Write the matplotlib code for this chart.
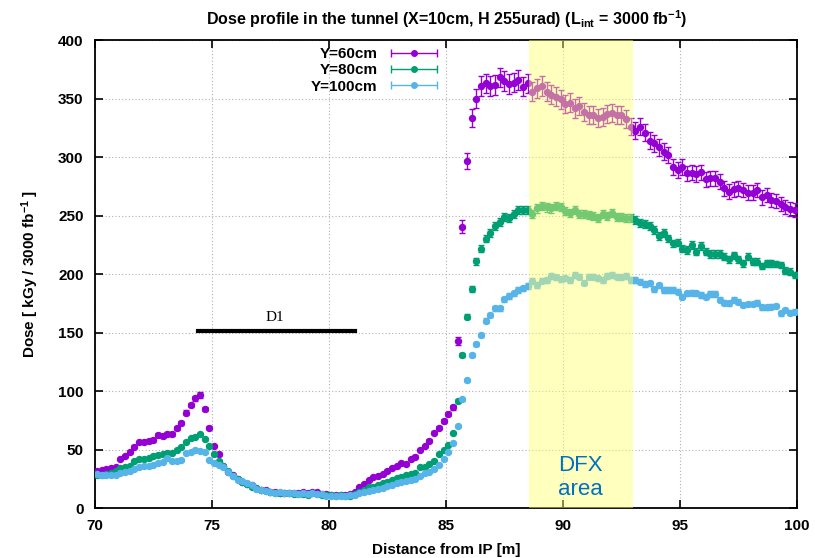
import numpy as np
import matplotlib.pyplot as plt
from matplotlib.container import ErrorbarContainer
from matplotlib.legend_handler import HandlerErrorbar

# Dose values, one bin every 0.2 m starting at 70.1 m
dose_60 = [31.9, 32.5, 33, 33.9, 35.3, 41.9, 44.4, 48.2, 52.4, 56.1,
           56.7, 57.5, 58.1, 62.4, 61.5, 63.2, 63.2, 68.1, 72.9, 81.5,
           88, 93.7, 96.6, 84.6, 68.7, 53, 45.9, 35.9, 31, 28,
           25, 22.5, 20.5, 19.5, 17, 15.5, 15, 14, 13.5, 13,
           12.5, 13, 12.5, 13, 13.5, 13, 14, 13.5, 12, 12,
           11.5, 11, 11, 11.5, 12, 14, 17.7, 20.5, 23.9, 26.2,
           27.4, 28.8, 31.9, 34.5, 35.9, 38.2, 37.3, 41.6, 43.9, 49.6,
           53, 57.5, 64.4, 68.7, 74.6, 80.3, 86, 142.7, 240.5, 296.6,
           333, 350, 360.7, 363, 360.7, 361.5, 368, 365.2, 362.4, 363.5,
           365.8, 360.1, 363, 355.8, 358.7, 360.7, 355.8, 353, 351.5, 349.3,
           345.3, 346.4, 341.6, 343.6, 338.7, 335.9, 335.9, 333, 334.5, 336.8,
           337.3, 335.9, 335.9, 332.2, 325.9, 322.5, 325.9, 320.8, 313.9, 311.7,
           308.3, 304.6, 301.7, 291.5, 289, 291.2, 286, 286.6, 285.5, 286.9,
           280.9, 281.8, 281.8, 278.9, 273.2, 270.4, 272.4, 273.2, 271.8, 269.5,
           269.5, 271.8, 265.5, 267.5, 263.2, 262.7, 259.8, 257, 255.3, 254.7]

dose_80 = [28.5, 28.5, 28.8, 29.6, 31.9, 33.9, 34.8, 35.9, 40.5, 41.9,
           41.9, 42.5, 44.4, 45.3, 46.2, 47.3, 46.7, 49.6, 52.4, 56.7,
           59.5, 60.9, 63.2, 58.7, 53, 46.2, 40, 36, 31.5, 27.4,
           24.5, 22.5, 20.5, 18.2, 16.8, 15.4, 14.8, 14, 13.1, 13.1,
           12.5, 12.5, 12, 12, 12, 11.5, 12.5, 12, 11.5, 11.1,
           10.8, 10.3, 11.1, 10.3, 10.3, 12, 14, 15.4, 17.7, 18.2,
           19.7, 21.1, 22.5, 23.9, 25.4, 26.2, 28.2, 29.1, 29.6, 34.8,
           35.3, 37.3, 40.5, 46, 49.6, 54, 64.4, 91.7, 130.8, 163.5,
           187.5, 210.8, 221.6, 230.2, 234.8, 241, 244.7, 249, 247.9, 251.3,
           254.7, 254.7, 254.7, 251.3, 256.1, 258.1, 257, 256.1, 258.1, 257.5,
           254.1, 251.9, 254.7, 251.3, 251.3, 250.4, 249.6, 247.6, 251.3, 249.9,
           251.9, 249, 248.4, 247.6, 247.6, 246.2, 243.3, 242.7, 241, 237.6,
           232.5, 235.3, 230.5, 226.2, 226.8, 221.5, 220.5, 224.8, 219.1, 223.9,
           219.1, 217.1, 217.1, 217.1, 214.8, 212.5, 216.2, 212.5, 209.1, 214.8,
           210.5, 210.5, 206.8, 209.1, 209.1, 208.5, 207.7, 202.8, 202, 199.1]

dose_100 = [29, 28.5, 28, 28, 28.5, 30, 31, 32, 33.5, 35,
            35.5, 36, 37, 38.5, 39, 42.5, 40, 40, 41, 47,
            47.5, 50, 49, 47.5, 41, 38.7, 36.8, 35, 30.5, 27,
            24, 23, 21, 20, 16.5, 15.5, 14.5, 14, 13, 13.5,
            12.5, 12.5, 12.5, 12, 12.5, 12, 13, 12, 12, 10.5,
            10, 10, 10, 10.5, 11, 11.5, 12.5, 13.5, 14.5, 15.5,
            16.5, 17.5, 18.5, 19.5, 21, 22, 23, 24, 25, 27,
            29.6, 31.1, 33, 37, 42, 48, 55.5, 70, 92.9, 109,
            130.8, 139.9, 147.9, 160.1, 165, 170.7, 170.7, 178.3, 181.2, 183.5,
            186.3, 187.7, 189.7, 194.3, 190.6, 194.3, 194.9, 198.3, 197.2, 195.4,
            196.3, 194.9, 199.1, 197.7, 192.6, 197.7, 197.7, 196.3, 194.9, 198.3,
            199.1, 197.7, 197.2, 198.3, 194.9, 194.9, 193.4, 191.5, 192, 186.9,
            190.3, 186.3, 186.3, 186.3, 184.9, 180.4, 183.5, 184, 183.5, 182.1,
            180.6, 182.9, 182.9, 177.8, 175.5, 174.9, 177.8, 176.4, 173.5, 174.4,
            174.4, 175.5, 171.5, 171.5, 172.1, 172.6, 166.4, 169.2, 166.9, 167.8]

# relative statistical error per series
rel_err = [0.023, 0.014, 0.012]
labels = ['Y=60cm', 'Y=80cm', 'Y=100cm']
colors = ['#9400d3', '#009e73', '#56b4e9']

x_start, x_step = 70.1, 0.2
dfx_range = (88.55, 93.0)
d1_range = (74.4, 81.1)
d1_level = 151

plt.rcParams['font.family'] = ['Liberation Sans', 'DejaVu Sans']
plt.rcParams['font.weight'] = 'bold'
plt.rcParams['axes.labelweight'] = 'bold'
plt.rcParams['figure.titleweight'] = 'bold'
plt.rcParams['mathtext.default'] = 'regular'
plt.rcParams['mathtext.fontset'] = 'custom'
plt.rcParams['mathtext.rm'] = 'Liberation Sans:bold'

fig = plt.figure(figsize=(8.15, 5.58), dpi=100)
ax = fig.add_axes([0.1162, 0.0896, 0.8617, 0.8387])

series = [dose_60, dose_80, dose_100]
handles = []
for vals, frac, lab, col in zip(series, rel_err, labels, colors):
    y = np.array(vals)
    x = x_start + x_step * np.arange(len(y))
    ax.errorbar(x, y, yerr=frac * y, fmt='o', color=col, ms=4.3, elinewidth=1,
                capsize=2.5, capthick=1, ecolor=col, zorder=3)
    # proxy with a horizontal bar, like the gnuplot key sample
    h = ax.errorbar([np.nan], [np.nan], xerr=[1], fmt='o', color=col, ms=4,
                    elinewidth=1, capsize=3, capthick=1)
    h.set_label(lab)
    handles.append(h)

# DFX area band, drawn over the points
ax.axvspan(*dfx_range, color='#ffff70', alpha=0.45, lw=0, zorder=4)
ax.text(90.75, 26, 'DFX\narea', color='#0070c0', fontsize=16, fontweight='normal',
        family=['Liberation Sans', 'DejaVu Sans'], ha='center', va='center',
        linespacing=1.2, zorder=5)

# D1 magnet
ax.plot(d1_range, [d1_level, d1_level], color='black', lw=3, zorder=5)
ax.text(77.7, 163, 'D1', fontsize=11, fontweight='normal',
        family=['Liberation Serif', 'DejaVu Serif'], ha='center', va='center')

ax.set_xlim(70, 100)
ax.set_ylim(0, 400)
ax.set_xticks(np.arange(70, 101, 5))
ax.set_yticks(np.arange(0, 401, 50))
ax.grid(True, color='#b0b0b0', linestyle=(0, (1, 2)), linewidth=0.8)
ax.tick_params(direction='in', top=True, right=True, length=6, width=1.2,
               labelsize=11)
ax.tick_params(axis='x', pad=8)
ax.tick_params(axis='y', pad=8)
for s in ax.spines.values():
    s.set_linewidth(1.3)

ax.set_xlabel('Distance from IP [m]', fontsize=11, labelpad=7)
ax.set_ylabel('Dose [ kGy / 3000 fb$^{-1}$ ]', fontsize=11, labelpad=12)
fig.suptitle('Dose profile in the tunnel (X=10cm, H 255urad) (L$_{int}$ = 3000 fb$^{-1}$)',
             fontsize=11.5, x=0.548, y=0.985)

leg = ax.legend(handles=handles, loc='upper right', bbox_to_anchor=(0.49, 0.985),
                frameon=False, markerfirst=False, fontsize=11, handlelength=3.2,
                handletextpad=0.8, labelspacing=0.15, borderpad=0, borderaxespad=0,
                handler_map={ErrorbarContainer: HandlerErrorbar(xerr_size=1.5)})

fig.savefig('out.png', dpi=100)
